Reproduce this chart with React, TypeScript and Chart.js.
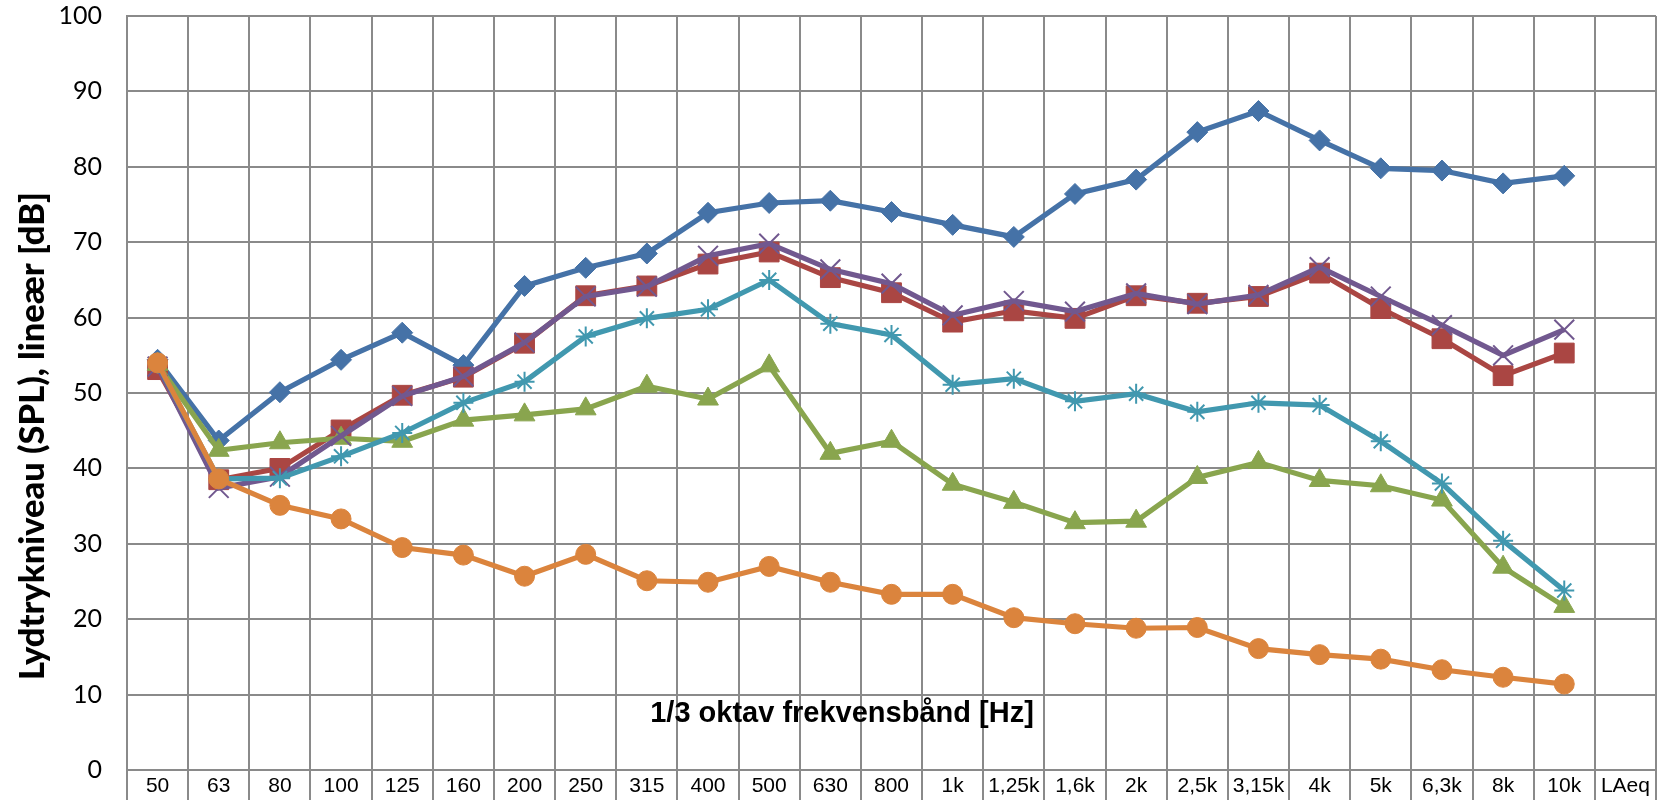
import React, { useEffect, useRef } from "react";
import { Chart, registerables } from "chart.js";

Chart.register(...registerables);

const categories = ["50", "63", "80", "100", "125", "160", "200", "250", "315", "400", "500", "630", "800", "1k", "1,25k", "1,6k", "2k", "2,5k", "3,15k", "4k", "5k", "6,3k", "8k", "10k", "LAeq"];

const seriesBlue = [54.4, 43.7, 50.1, 54.4, 58.0, 53.7, 64.2, 66.6, 68.5, 73.9, 75.2, 75.5, 74.0, 72.3, 70.7, 76.4, 78.3, 84.6, 87.4, 83.5, 79.8, 79.5, 77.8, 78.8, null];
const seriesRed = [53.1, 38.5, 40.0, 45.1, 49.7, 52.1, 56.6, 62.9, 64.2, 67.1, 68.7, 65.3, 63.3, 59.4, 60.9, 59.9, 62.9, 61.9, 62.8, 65.9, 61.2, 57.2, 52.3, 55.3, null];
const seriesGreen = [53.8, 42.4, 43.4, 44.0, 43.6, 46.4, 47.1, 47.9, 50.9, 49.2, 53.6, 42.0, 43.6, 37.9, 35.5, 32.8, 33.0, 38.8, 40.8, 38.4, 37.7, 35.8, 26.9, 21.7, null];
const seriesPurple = [53.5, 37.4, 38.9, 44.3, 49.6, 52.2, 56.7, 62.8, 64.1, 68.2, 69.8, 66.4, 64.5, 60.3, 62.2, 60.8, 63.2, 61.8, 63.0, 66.7, 62.8, 59.0, 55.0, 58.4, null];
const seriesCyan = [53.9, 38.6, 38.7, 41.6, 44.7, 48.7, 51.5, 57.5, 59.9, 61.1, 65.0, 59.2, 57.7, 51.1, 51.9, 48.9, 49.9, 47.5, 48.7, 48.4, 43.6, 38.0, 30.4, 23.8, null];
const seriesOrange = [54.0, 38.6, 35.1, 33.3, 29.5, 28.5, 25.7, 28.6, 25.1, 24.9, 27.0, 24.9, 23.3, 23.3, 20.2, 19.4, 18.8, 18.9, 16.1, 15.3, 14.7, 13.3, 12.3, 11.4, null];

const yTicks = { min: 0, max: 100, step: 10 };
const yTitle = "Lydtrykniveau (SPL), lineær [dB]";
const xTitle = "1/3 oktav frekvensbånd [Hz]";

const GRID = "#8a8a8a";

const titlePlugin = {
  id: "customTitles",
  afterDraw(chart: any) {
    const ctx = chart.ctx;
    ctx.save();
    ctx.fillStyle = "#000";
    ctx.font = "bold 29px 'Liberation Sans', Arial, sans-serif";
    ctx.textAlign = "center";
    ctx.textBaseline = "middle";
    ctx.fillText(xTitle, 842, 714);
    let size = 30;
    ctx.font = `900 ${size}px Lato, sans-serif`;
    const w = ctx.measureText(yTitle).width;
    size = size * 488 / w;
    ctx.font = `900 ${size}px Lato, sans-serif`;
    ctx.translate(33, 436);
    ctx.rotate(-Math.PI / 2);
    ctx.fillText(yTitle, 0, 0);
    ctx.restore();
  },
};

function ds(label: string, data: (number | null)[], color: string, style: string, radius: number, extra: any = {}) {
  return {
    label,
    data,
    borderColor: color,
    backgroundColor: color,
    pointBackgroundColor: color,
    pointBorderColor: color,
    pointStyle: style,
    pointRadius: radius,
    pointBorderWidth: 1,
    borderWidth: 5.2,
    tension: 0,
    spanGaps: false,
    ...extra,
  };
}

export default function App() {
  const ref = useRef<HTMLCanvasElement | null>(null);
  useEffect(() => {
    if (!ref.current) return;
    const chart = new Chart(ref.current, {
      type: "line",
      data: {
        labels: categories,
        datasets: [
          ds("Serie 6", seriesOrange, "#db843d", "circle", 10),
          ds("Serie 5", seriesCyan, "#4198af", "star", 10, { pointBorderWidth: 2 }),
          ds("Serie 4", seriesPurple, "#71588f", "crossRot", 14, { pointBorderWidth: 2 }),
          ds("Serie 3", seriesGreen, "#89a54e", "triangle", 12),
          ds("Serie 2", seriesRed, "#aa4643", "rect", 14),
          ds("Serie 1", seriesBlue, "#4572a7", "rectRot", 10.5),
        ] as any,
      },
      options: {
        animation: false,
        responsive: true,
        maintainAspectRatio: false,
        layout: { autoPadding: false, padding: { top: 16, right: 3, left: 0, bottom: 0 } },
        plugins: { legend: { display: false }, tooltip: { enabled: false }, title: { display: false } },
        scales: {
          x: {
            type: "category",
            offset: true,
            grid: { color: GRID, lineWidth: 2, offset: true, drawTicks: true, tickLength: 30, tickColor: GRID, tickWidth: 2 },
            border: { color: GRID, width: 2 },
            ticks: {
              color: "#000",
              font: { family: "'Liberation Sans', Arial, sans-serif", size: 21 },
              padding: -26,
              maxRotation: 0,
              autoSkip: false,
            },
            afterFit: (s: any) => { s.height = 30; s.paddingLeft = 0; s.paddingRight = 0; },
          },
          y: {
            min: yTicks.min,
            max: yTicks.max,
            grid: { color: GRID, lineWidth: 2, drawTicks: false },
            border: { color: GRID, width: 2 },
            ticks: {
              stepSize: yTicks.step,
              color: "#000",
              font: { family: "Lato, sans-serif", size: 25 },
              padding: 25,
            },
            afterFit: (s: any) => { s.width = 127; s.paddingTop = 0; s.paddingBottom = 0; },
          },
        },
      },
      plugins: [titlePlugin],
    });
    return () => chart.destroy();
  }, []);
  return (
    <div style={{ position: "absolute", left: 0, top: 0, width: 1659, height: 800, background: "#fff" }}>
      <canvas ref={ref} />
    </div>
  );
}
